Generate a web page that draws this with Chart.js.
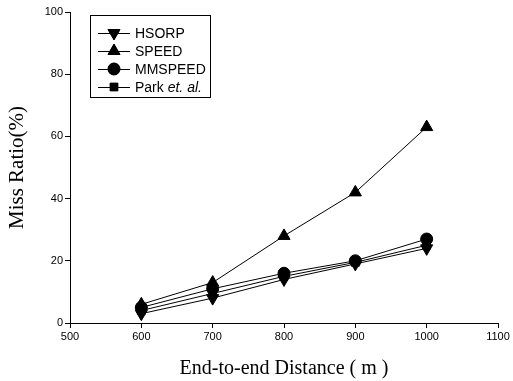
<!DOCTYPE html>
<html><head><meta charset="utf-8">
<script src="https://cdn.jsdelivr.net/npm/chart.js@4"></script>
<style>html,body{margin:0;padding:0;background:#fff}canvas{display:block}</style>
</head><body>
<canvas id="c" width="513" height="381"></canvas>
<script>
const distances = [600, 700, 800, 900, 1000];
const hsorp = [3, 8, 14, 19, 24];
const speed = [6, 13, 28, 42, 63];
const mmspeed = [5, 11, 16, 20, 27];
const park = [4, 9.5, 15, 19.5, 25];
const xTicks = [500, 600, 700, 800, 900, 1000, 1100];
const yTicks = [0, 20, 40, 60, 80, 100];
const seriesNames = ['HSORP', 'SPEED', 'MMSPEED', 'Park'];

function pts(arr){ return distances.map((d,i)=>({x:d,y:arr[i]})); }
function ds(label, arr, style, rot, r){
  return {label, data: pts(arr), borderColor:'#000', backgroundColor:'#000', borderWidth:1,
    pointStyle: style, rotation: rot, pointRadius: r, pointBackgroundColor:'#000', pointBorderColor:'#000',
    pointBorderWidth:1, tension:0, fill:false};
}

const legendPlugin = {
  id:'customLegend',
  afterDraw(chart){
    const ctx = chart.ctx;
    ctx.save();
    ctx.strokeStyle='#000'; ctx.lineWidth=1;
    ctx.strokeRect(90.5, 15.5, 120, 82);
    const rows = [33, 51, 69, 87];
    const styles = [['triangle',180,7],['triangle',0,7],['circle',0,6],['rect',0,5.5]];
    rows.forEach((y,i)=>{
      ctx.beginPath(); ctx.moveTo(98,y+0.5); ctx.lineTo(130,y+0.5); ctx.stroke();
      ctx.fillStyle='#000';
      Chart.helpers.drawPoint(ctx, {pointStyle:styles[i][0], rotation:styles[i][1], radius:styles[i][2], borderWidth:1}, 114, y);
      ctx.fill();
      ctx.fillStyle='#000';
      ctx.textBaseline='middle';
      ctx.font='14px "Liberation Sans", Arial, sans-serif';
      if(i<3){ ctx.fillText(seriesNames[i], 135, y+1); }
      else {
        const t1 = seriesNames[3] + ' ';
        ctx.fillText(t1, 135, y+1);
        const w = ctx.measureText(t1).width;
        ctx.font='italic 14px "Liberation Sans", Arial, sans-serif';
        ctx.fillText('et. al.', 135+w, y+1);
      }
    });
    ctx.restore();
  }
};

new Chart(document.getElementById('c'), {
  type:'line',
  data:{ datasets:[
    ds('HSORP', hsorp, 'triangle', 180, 7),
    ds('SPEED', speed, 'triangle', 0, 7),
    ds('MMSPEED', mmspeed, 'circle', 0, 6),
    ds('Park et. al.', park, 'rect', 0, 5.5)
  ]},
  options:{
    responsive:false, animation:false,
    layout:{padding:{left:0, top:12, right:15, bottom:0}},
    plugins:{legend:{display:false}, tooltip:{enabled:false}},
    scales:{
      x:{type:'linear', min:500, max:1100,
        afterBuildTicks(s){ s.ticks = xTicks.map(v=>({value:v})); },
        afterFit(s){ s.height = 58; },
        grid:{drawOnChartArea:false, drawTicks:true, tickLength:5, color:'#000'},
        border:{display:true, color:'#000', width:1},
        ticks:{color:'#000', font:{family:'"Liberation Sans", Arial', size:11}, padding:2, maxRotation:0, callback:v=>String(v)},
        title:{display:true, text:'End-to-end Distance ( m )', color:'#000', font:{family:'"Liberation Serif", "Times New Roman"', size:20}, padding:{top:0,bottom:0}}
      },
      y:{type:'linear', min:0, max:100,
        afterBuildTicks(s){ s.ticks = yTicks.map(v=>({value:v})); },
        afterFit(s){ s.width = 70; },
        grid:{drawOnChartArea:false, drawTicks:true, tickLength:5, color:'#000'},
        border:{display:true, color:'#000', width:1},
        ticks:{color:'#000', font:{family:'"Liberation Sans", Arial', size:11}, padding:2, callback:v=>String(v)},
        title:{display:true, text:'Miss Ratio(%)', color:'#000', font:{family:'"Liberation Serif", "Times New Roman"', size:21}, padding:{top:5,bottom:0}}
      }
    }
  },
  plugins:[legendPlugin]
});
</script>
</body></html>
